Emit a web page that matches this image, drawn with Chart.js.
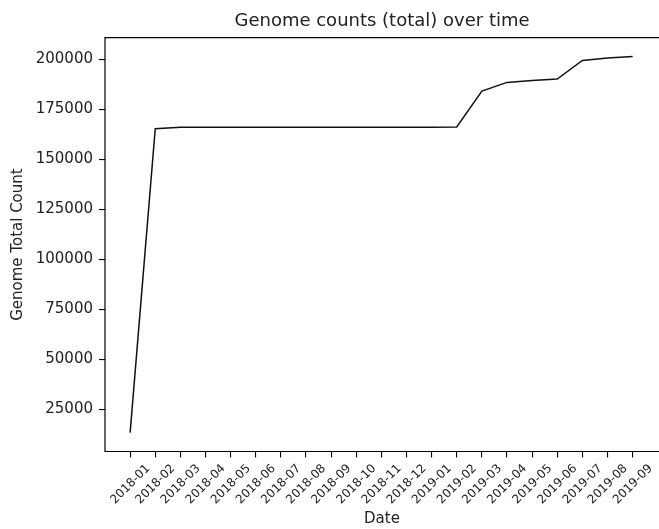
<!DOCTYPE html>
<html>
<head>
<meta charset="utf-8">
<script src="https://cdn.jsdelivr.net/npm/chart.js@4"></script>
<style>
  html, body { margin: 0; padding: 0; background: #fff; overflow: hidden; }
  #wrap { position: absolute; left: 0; top: 0; width: 659px; height: 529px; }
</style>
</head>
<body>
<div id="wrap"><canvas id="genomeChart" width="659" height="529"></canvas></div>
<script>
const DATES = ['2018-01', '2018-02', '2018-03', '2018-04', '2018-05', '2018-06', '2018-07',
  '2018-08', '2018-09', '2018-10', '2018-11', '2018-12', '2019-01', '2019-02', '2019-03',
  '2019-04', '2019-05', '2019-06', '2019-07', '2019-08', '2019-09'];
const TOTALS = [13300, 165300, 166100, 166100, 166100, 166100, 166100,
  166100, 166100, 166100, 166100, 166100, 166100, 166200, 184150,
  188500, 189500, 190150, 199500, 200650, 201500];
const Y_TICKS = [25000, 50000, 75000, 100000, 125000, 150000, 175000, 200000];

const FONT = 'DejaVu Sans';
const INK = '#222';

// matplotlib style spines; the right one falls just outside the picture
const frame = {
  id: 'frame',
  afterDraw(chart) {
    const { ctx, chartArea: a } = chart;
    ctx.save();
    ctx.strokeStyle = '#000';
    ctx.lineWidth = 1.2;
    ctx.beginPath();
    ctx.moveTo(a.right + 2, a.top);
    ctx.lineTo(a.left, a.top);
    ctx.lineTo(a.left, a.bottom);
    ctx.lineTo(a.right + 2, a.bottom);
    ctx.stroke();
    ctx.restore();
  }
};

const ctx = document.getElementById('genomeChart').getContext('2d');
new Chart(ctx, {
  type: 'line',
  data: {
    datasets: [{
      label: 'Genome Total Count',
      data: TOTALS.map((v, i) => ({ x: i, y: v })),
      borderColor: '#111',
      borderWidth: 1.5,
      pointRadius: 0,
      tension: 0,
      fill: false
    }]
  },
  options: {
    responsive: false,
    animation: false,
    layout: { padding: { left: 0, right: 0, top: 0, bottom: 0 } },
    plugins: {
      legend: { display: false },
      tooltip: { enabled: false },
      title: {
        display: true,
        text: 'Genome counts (total) over time',
        fullSize: false,
        color: INK,
        font: { family: FONT, size: 18, weight: 'normal' },
        padding: { top: 11, bottom: 5 }
      }
    },
    scales: {
      x: {
        type: 'linear',
        min: -1,
        max: 21.05,
        afterBuildTicks: (scale) => { scale.ticks = DATES.map((d, i) => ({ value: i })); },
        afterFit: (scale) => { scale.height = 77.5; },
        grid: { display: true, drawOnChartArea: false, drawTicks: true, tickLength: 6, color: '#000', lineWidth: 1.1 },
        border: { display: false },
        ticks: {
          autoSkip: false,
          minRotation: 45,
          maxRotation: 45,
          labelOffset: 18,
          padding: 4,
          color: INK,
          font: { family: FONT, size: 12 },
          callback: (v) => DATES[v] || ''
        },
        title: {
          display: true,
          text: 'Date',
          color: INK,
          font: { family: FONT, size: 15 },
          padding: { top: 0, bottom: 1 }
        }
      },
      y: {
        min: 3890,
        max: 210910,
        afterBuildTicks: (scale) => { scale.ticks = Y_TICKS.map(v => ({ value: v })); },
        afterFit: (scale) => { scale.width = 105; },
        grid: { display: true, drawOnChartArea: false, drawTicks: true, tickLength: 6, color: '#000', lineWidth: 1.1 },
        border: { display: false },
        ticks: {
          padding: 6,
          color: INK,
          font: { family: FONT, size: 15 },
          callback: (v) => String(v)
        },
        title: {
          display: true,
          text: 'Genome Total Count',
          color: INK,
          font: { family: FONT, size: 15 },
          padding: { top: 9, bottom: 0 }
        }
      }
    }
  },
  plugins: [frame]
});
</script>
</body>
</html>
